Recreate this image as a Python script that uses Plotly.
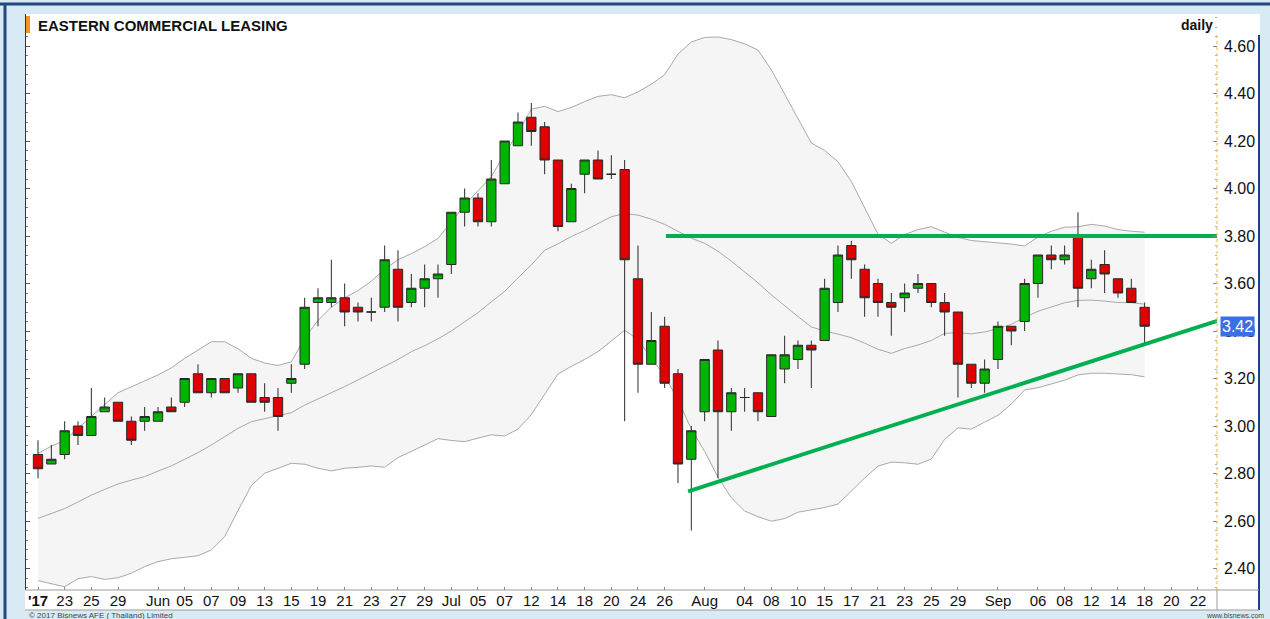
import plotly.graph_objects as go

W, H = 1270, 619

# ---- daily OHLC (trading-day index 0 = 19 May 2017 ... 83 = 18 Sep 2017)
opens = [2.88, 2.84, 2.88, 3.00, 2.96, 3.06, 3.10, 3.02, 3.02, 3.02,
         3.08, 3.10, 3.22, 3.14, 3.20, 3.16, 3.22, 3.12, 3.12, 3.18,
         3.26, 3.52, 3.52, 3.54, 3.50, 3.48, 3.50, 3.66, 3.52, 3.58,
         3.62, 3.68, 3.90, 3.96, 3.86, 4.02, 4.18, 4.30, 4.26, 4.12,
         3.86, 4.06, 4.12, 4.06, 4.08, 3.62, 3.26, 3.42, 3.22, 2.86,
         3.06, 3.32, 3.06, 3.12, 3.14, 3.04, 3.24, 3.28, 3.34, 3.36,
         3.52, 3.76, 3.66, 3.60, 3.52, 3.54, 3.58, 3.60, 3.52, 3.48,
         3.26, 3.18, 3.28, 3.42, 3.44, 3.60, 3.72, 3.70, 3.80, 3.62,
         3.68, 3.62, 3.58, 3.50]
highs = [2.94, 2.92, 3.02, 3.02, 3.16, 3.12, 3.10, 3.04, 3.08, 3.08,
         3.12, 3.20, 3.26, 3.20, 3.20, 3.22, 3.22, 3.18, 3.16, 3.26,
         3.54, 3.58, 3.70, 3.60, 3.52, 3.54, 3.76, 3.74, 3.64, 3.68,
         3.68, 3.90, 4.00, 3.98, 4.12, 4.20, 4.32, 4.36, 4.28, 4.12,
         4.02, 4.12, 4.16, 4.14, 4.12, 3.76, 3.48, 3.46, 3.24, 3.00,
         3.28, 3.36, 3.16, 3.16, 3.14, 3.30, 3.38, 3.36, 3.36, 3.62,
         3.76, 3.78, 3.68, 3.62, 3.56, 3.60, 3.64, 3.60, 3.56, 3.48,
         3.26, 3.28, 3.44, 3.42, 3.62, 3.72, 3.76, 3.76, 3.90, 3.70,
         3.74, 3.62, 3.62, 3.52]
lows = [2.78, 2.84, 2.86, 2.92, 2.96, 3.06, 3.02, 2.92, 2.98, 3.02,
        3.06, 3.08, 3.14, 3.12, 3.14, 3.14, 3.10, 3.06, 2.98, 3.14,
        3.24, 3.42, 3.50, 3.42, 3.44, 3.44, 3.48, 3.44, 3.50, 3.50,
        3.54, 3.64, 3.84, 3.84, 3.84, 4.02, 4.18, 4.18, 4.06, 3.82,
        3.86, 3.98, 4.04, 4.04, 3.02, 3.14, 3.26, 3.16, 2.76, 2.56,
        3.02, 2.78, 2.98, 3.06, 3.02, 3.04, 3.18, 3.24, 3.16, 3.36,
        3.48, 3.62, 3.46, 3.46, 3.38, 3.48, 3.56, 3.50, 3.38, 3.12,
        3.16, 3.14, 3.24, 3.34, 3.40, 3.54, 3.66, 3.68, 3.50, 3.58,
        3.56, 3.54, 3.52, 3.34]
closes = [2.82, 2.86, 2.98, 2.96, 3.04, 3.08, 3.02, 2.94, 3.04, 3.06,
          3.06, 3.20, 3.14, 3.20, 3.14, 3.22, 3.10, 3.10, 3.04, 3.20,
          3.50, 3.54, 3.54, 3.48, 3.48, 3.48, 3.70, 3.50, 3.58, 3.62,
          3.64, 3.90, 3.96, 3.86, 4.04, 4.20, 4.28, 4.24, 4.12, 3.84,
          4.00, 4.12, 4.04, 4.06, 3.70, 3.26, 3.36, 3.18, 2.84, 2.98,
          3.28, 3.06, 3.14, 3.12, 3.06, 3.30, 3.30, 3.34, 3.32, 3.58,
          3.72, 3.70, 3.54, 3.52, 3.50, 3.56, 3.60, 3.52, 3.48, 3.26,
          3.18, 3.24, 3.42, 3.40, 3.60, 3.72, 3.70, 3.72, 3.58, 3.66,
          3.64, 3.56, 3.52, 3.42]

# ---- Bollinger bands
bb_upper = [2.885, 2.915, 2.94, 2.99, 3.04, 3.09, 3.14, 3.165, 3.19, 3.215,
            3.245, 3.285, 3.32, 3.355, 3.355, 3.325, 3.285, 3.265, 3.255, 3.27,
            3.37, 3.445, 3.50, 3.54, 3.57, 3.61, 3.66, 3.70, 3.726, 3.755,
            3.79, 3.86, 3.93, 3.99, 4.05, 4.146, 4.236, 4.334, 4.346, 4.324,
            4.341, 4.366, 4.388, 4.395, 4.382, 4.407, 4.439, 4.479, 4.566, 4.617,
            4.636, 4.638, 4.627, 4.609, 4.583, 4.50, 4.396, 4.29, 4.192, 4.16,
            4.113, 4.03, 3.921, 3.808, 3.769, 3.806, 3.827, 3.839, 3.816, 3.794,
            3.781, 3.777, 3.772, 3.766, 3.758, 3.795, 3.82, 3.837, 3.839, 3.849,
            3.842, 3.827, 3.82, 3.816]
bb_mid = [2.611, 2.63, 2.652, 2.68, 2.709, 2.733, 2.756, 2.772, 2.787, 2.81,
          2.832, 2.86, 2.888, 2.92, 2.955, 2.99, 3.018, 3.03, 3.042, 3.056,
          3.088, 3.113, 3.138, 3.166, 3.194, 3.222, 3.25, 3.28, 3.313, 3.338,
          3.367, 3.40, 3.439, 3.477, 3.523, 3.567, 3.624, 3.678, 3.74, 3.767,
          3.798, 3.823, 3.852, 3.881, 3.895, 3.888, 3.871, 3.849, 3.82, 3.791,
          3.769, 3.736, 3.694, 3.649, 3.603, 3.552, 3.505, 3.461, 3.417, 3.40,
          3.387, 3.372, 3.349, 3.323, 3.306, 3.326, 3.341, 3.36, 3.39, 3.393,
          3.388, 3.396, 3.41, 3.428, 3.457, 3.483, 3.501, 3.519, 3.529, 3.53,
          3.526, 3.52, 3.519, 3.513]
bb_lower = [2.349, 2.335, 2.323, 2.357, 2.366, 2.354, 2.361, 2.38, 2.408, 2.429,
            2.441, 2.447, 2.454, 2.478, 2.534, 2.644, 2.749, 2.801, 2.822, 2.843,
            2.839, 2.822, 2.811, 2.822, 2.826, 2.832, 2.826, 2.867, 2.893, 2.919,
            2.947, 2.939, 2.934, 2.949, 2.963, 2.958, 2.987, 3.048, 3.132, 3.219,
            3.251, 3.28, 3.313, 3.36, 3.403, 3.364, 3.284, 3.212, 3.11, 2.987,
            2.893, 2.784, 2.698, 2.642, 2.618, 2.599, 2.61, 2.637, 2.647, 2.657,
            2.671, 2.726, 2.781, 2.831, 2.848, 2.845, 2.839, 2.861, 2.944, 2.992,
            2.987, 3.016, 3.045, 3.092, 3.152, 3.161, 3.176, 3.193, 3.215, 3.222,
            3.222, 3.219, 3.216, 3.207]

# ---- hand-drawn trend lines (index, price)
res_x = [47.1, 88.45]
res_y = [3.80, 3.80]
sup_x = [48.76, 88.45]
sup_y = [2.725, 3.443]

# ---- x-axis tick labels
tick_idx = [0, 2, 4, 6, 9, 11, 13, 15, 17, 19, 21, 23, 25, 27, 29, 31, 33, 35,
            37, 39, 41, 43, 45, 47, 50, 53, 55, 57, 59, 61, 63, 65, 67, 69, 72,
            75, 77, 79, 81, 83, 85, 87]
tick_txt = ["<b>'17</b>", "23", "25", "29", "Jun", "05", "07", "09", "13", "15",
            "19", "21", "23", "27", "29", "Jul", "05", "07", "12", "14", "18",
            "20", "24", "26", "Aug", "04", "08", "10", "15", "17", "21", "23",
            "25", "29", "Sep", "06", "08", "12", "14", "18", "20", "22"]
y_ticks = [2.40, 2.60, 2.80, 3.00, 3.20, 3.40, 3.60, 3.80, 4.00, 4.20, 4.40, 4.60]

idx = list(range(len(closes)))
FONT = "Arial, Liberation Sans, sans-serif"


def px(x):
    return x / W


def py(y):
    return 1 - y / H


PLOT_L, PLOT_R, PLOT_T, PLOT_B = 26, 1217, 14, 590
X0 = 38.0
DX = 13.333
Y_TOP_PRICE, Y_TOP_PX, PX_PER_UNIT = 4.60, 46.0, 237.5

x_range = [(PLOT_L - X0) / DX, (PLOT_R - X0) / DX]
y_range = [Y_TOP_PRICE - (PLOT_B - Y_TOP_PX) / PX_PER_UNIT,
           Y_TOP_PRICE + (Y_TOP_PX - PLOT_T) / PX_PER_UNIT]

fig = go.Figure()

# Bollinger bands on the base (left) axis, drawn underneath
BAND_LINE = "#a9a9a9"
fig.add_trace(go.Scatter(x=idx, y=bb_upper, mode="lines", yaxis="y",
                         line=dict(color=BAND_LINE, width=1), hoverinfo="skip"))
fig.add_trace(go.Scatter(x=idx, y=bb_lower, mode="lines", fill="tonexty", yaxis="y",
                         fillcolor="#f5f5f5",
                         line=dict(color=BAND_LINE, width=1), hoverinfo="skip"))
fig.add_trace(go.Scatter(x=idx, y=bb_mid, mode="lines", yaxis="y",
                         line=dict(color=BAND_LINE, width=1), hoverinfo="skip"))

# candles + trend lines on the overlaying (right, labelled) axis
fig.add_trace(go.Candlestick(
    x=idx, open=opens, high=highs, low=lows, close=closes, yaxis="y2",
    increasing=dict(fillcolor="#00b400", line=dict(color="#2a2a2a", width=1)),
    decreasing=dict(fillcolor="#e00000", line=dict(color="#2a2a2a", width=1)),
    whiskerwidth=0, hoverinfo="skip"))

GREEN = "#00b050"
fig.add_trace(go.Scatter(x=res_x, y=res_y, mode="lines", yaxis="y2",
                         line=dict(color=GREEN, width=4), hoverinfo="skip"))
fig.add_trace(go.Scatter(x=sup_x, y=sup_y, mode="lines", yaxis="y2",
                         line=dict(color=GREEN, width=4), hoverinfo="skip"))

shapes = [
    # white chart panel
    dict(type="rect", xref="paper", yref="paper", x0=px(25), x1=px(1260),
         y0=py(610), y1=py(14), fillcolor="white", line=dict(width=0), layer="below"),
    # outer dark-blue frame (top, left)
    dict(type="line", xref="paper", yref="paper", x0=0, x1=1, y0=py(4), y1=py(4),
         line=dict(color="#24477e", width=3)),
    dict(type="line", xref="paper", yref="paper", x0=px(5), x1=px(5), y0=py(3), y1=0,
         line=dict(color="#24477e", width=3)),
    # right value-axis panel border
    dict(type="line", xref="paper", yref="paper", x0=px(1259), x1=px(1259),
         y0=py(35), y1=py(610), line=dict(color="#1f3f8a", width=2)),
    # orange dotted value-axis line
    dict(type="line", xref="paper", yref="paper", x0=px(1217), x1=px(1217),
         y0=py(35), y1=py(590), line=dict(color="#f2b43c", width=1, dash="dot")),
    # date row separators
    dict(type="line", xref="paper", yref="paper", x0=px(25), x1=px(1259),
         y0=py(590), y1=py(590), line=dict(color="#9a9a9a", width=1)),
    dict(type="line", xref="paper", yref="paper", x0=px(25), x1=px(1259),
         y0=py(610), y1=py(610), line=dict(color="#9a9a9a", width=1)),
    dict(type="line", xref="paper", yref="paper", x0=px(1217), x1=px(1217),
         y0=py(590), y1=py(610), line=dict(color="#9a9a9a", width=1)),
    # orange bar before title
    dict(type="rect", xref="paper", yref="paper", x0=px(26), x1=px(30),
         y0=py(33), y1=py(16), fillcolor="#f7941d", line=dict(width=0)),
]

annotations = [
    dict(text="<b>EASTERN COMMERCIAL LEASING</b>", xref="paper", yref="paper",
         x=px(36), y=py(25), xanchor="left", yanchor="middle", showarrow=False,
         font=dict(family=FONT, size=15, color="#111111")),
    dict(text="<b>daily</b>", xref="paper", yref="paper",
         x=px(1215), y=py(25), xanchor="right", yanchor="middle", showarrow=False,
         font=dict(family=FONT, size=14, color="#111111")),
    dict(text=f"{closes[-1]:.2f}", xref="paper", yref="y2",
         x=px(1220), y=closes[-1], xanchor="left", yanchor="middle", showarrow=False,
         bgcolor="#3a6fe8", borderpad=1,
         font=dict(family=FONT, size=16, color="white")),
    dict(text="© 2017 Bisnews AFE ( Thailand) Limited", xref="paper", yref="paper",
         x=px(27), y=py(615), xanchor="left", yanchor="middle", showarrow=False,
         font=dict(family=FONT, size=8, color="#444444")),
    dict(text="www.bisnews.com", xref="paper", yref="paper",
         x=px(1266), y=py(615), xanchor="right", yanchor="middle", showarrow=False,
         font=dict(family=FONT, size=7, color="#444444")),
]

fig.update_layout(
    width=W, height=H,
    margin=dict(l=0, r=0, t=0, b=0),
    paper_bgcolor="#d8ebf5",
    plot_bgcolor="rgba(0,0,0,0)",
    showlegend=False,
    hovermode=False,
    boxgap=0.3, boxgroupgap=0,
    shapes=shapes,
    annotations=annotations,
    xaxis=dict(
        domain=[px(PLOT_L), px(PLOT_R)], range=x_range,
        tickmode="array", tickvals=tick_idx, ticktext=tick_txt,
        ticks="inside", ticklen=3, tickcolor="#888888",
        tickfont=dict(family=FONT, size=15, color="#111111"),
        showgrid=False, zeroline=False, showline=False,
        rangeslider=dict(visible=False), fixedrange=True,
    ),
    yaxis=dict(
        domain=[py(PLOT_B), py(PLOT_T)], range=y_range, side="left",
        showticklabels=False, ticks="inside", ticklen=4, tickcolor="#555555",
        tickvals=y_ticks,
        minor=dict(dtick=0.04, ticks="inside", ticklen=2, tickcolor="#777777"),
        showline=True, linecolor="#333333", linewidth=1,
        showgrid=False, zeroline=False, fixedrange=True,
    ),
    yaxis2=dict(
        overlaying="y", anchor="x", range=y_range, side="right",
        tickmode="array", tickvals=y_ticks, ticktext=[f"{v:.2f}" for v in y_ticks],
        ticks="inside", ticklen=4, tickcolor="#888888",
        minor=dict(dtick=0.04, ticks="inside", ticklen=2, tickcolor="#aaaaaa"),
        tickfont=dict(family=FONT, size=16, color="#111111"),
        ticklabelstandoff=6,
        showgrid=False, zeroline=False, showline=False, fixedrange=True,
    ),
)

fig.write_html(
    "out.html",
    config={"displayModeBar": False},
    post_script="document.body.style.margin='0';"
                "document.body.style.background='#d8ebf5';",
)
